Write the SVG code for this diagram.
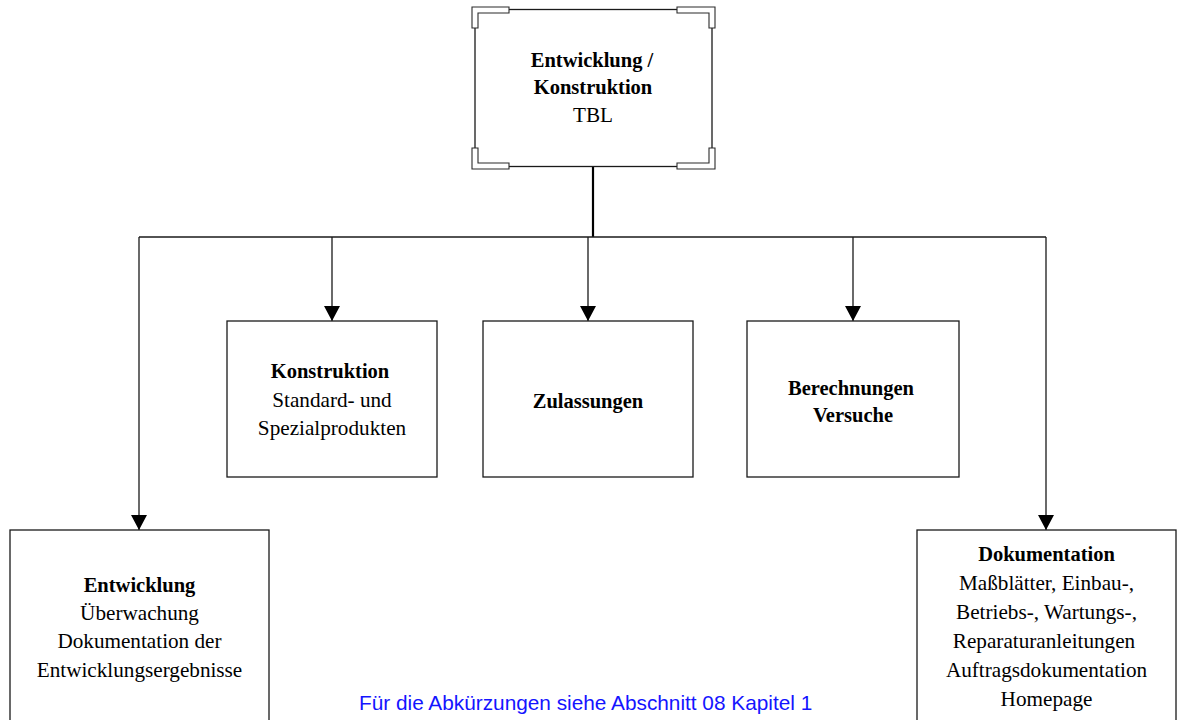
<svg xmlns="http://www.w3.org/2000/svg" width="1177" height="720" viewBox="0 0 1177 720">
  <style>
    .box { fill: #ffffff; stroke: #1a1a1a; stroke-width: 1.3; }
    .bracket { fill: #ffffff; stroke: #2a2a2a; stroke-width: 1.1; }
    .t { font-family: "Liberation Serif", "Times New Roman", serif; font-size: 21.2px; fill: #000000; text-anchor: middle; }
    .b { font-weight: bold; font-size: 20.5px; }
    .line { fill: none; stroke: #1a1a1a; stroke-width: 1.3; }
    .note { font-family: "Liberation Sans", Arial, sans-serif; font-size: 20.8px; fill: #1414ff; }
  </style>
  <defs>
    <marker id="arrow" markerUnits="userSpaceOnUse" markerWidth="16" markerHeight="16" refX="15" refY="8" orient="auto">
      <path d="M0,0 L15,8 L0,16 Z" fill="#000000"/>
    </marker>
  </defs>
  <rect width="1177" height="720" fill="#ffffff"/>

  <!-- connectors -->
  <g id="connectors">
    <line x1="593" y1="167" x2="593" y2="237" stroke="#000000" stroke-width="2.2"/>
    <line class="line" x1="139" y1="237" x2="1046" y2="237"/>
    <line class="line" x1="139" y1="237" x2="139" y2="530" marker-end="url(#arrow)"/>
    <line class="line" x1="332" y1="237" x2="332" y2="321" marker-end="url(#arrow)"/>
    <line class="line" x1="588" y1="237" x2="588" y2="321" marker-end="url(#arrow)"/>
    <line class="line" x1="853" y1="237" x2="853" y2="321" marker-end="url(#arrow)"/>
    <line class="line" x1="1046" y1="237" x2="1046" y2="530" marker-end="url(#arrow)"/>
  </g>

  <!-- head node with bracket corners -->
  <g id="node-tbl">
    <rect class="box" x="475" y="9.5" width="237" height="157"/>
    <path class="bracket" d="M472,7 H509 V13 H478 V28 H472 Z"/>
    <path class="bracket" d="M715,7 H677 V13 H709 V28 H715 Z"/>
    <path class="bracket" d="M472,169 H509 V163 H478 V148 H472 Z"/>
    <path class="bracket" d="M715,169 H677 V163 H709 V148 H715 Z"/>
    <text class="t b" x="592" y="67">Entwicklung /</text>
    <text class="t b" x="593" y="94">Konstruktion</text>
    <text class="t" x="593" y="122">TBL</text>
  </g>

  <g id="node-konstruktion">
    <rect class="box" x="227" y="321" width="210" height="156"/>
    <text class="t b" x="330" y="378">Konstruktion</text>
    <text class="t" x="332" y="407">Standard- und</text>
    <text class="t" x="332" y="435">Spezialprodukten</text>
  </g>

  <g id="node-zulassungen">
    <rect class="box" x="483" y="321" width="210" height="156"/>
    <text class="t b" x="588" y="408">Zulassungen</text>
  </g>

  <g id="node-berechnungen">
    <rect class="box" x="747" y="321" width="212" height="156"/>
    <text class="t b" x="851" y="395">Berechnungen</text>
    <text class="t b" x="853" y="422">Versuche</text>
  </g>

  <g id="node-entwicklung">
    <rect class="box" x="10" y="530" width="259" height="200"/>
    <text class="t b" x="139.5" y="592">Entwicklung</text>
    <text class="t" x="139.5" y="620">Überwachung</text>
    <text class="t" x="139.5" y="648">Dokumentation der</text>
    <text class="t" x="139.5" y="677">Entwicklungsergebnisse</text>
  </g>

  <g id="node-dokumentation">
    <rect class="box" x="917" y="530" width="259" height="200"/>
    <text class="t b" x="1046.5" y="561">Dokumentation</text>
    <text class="t" x="1046.5" y="590">Maßblätter, Einbau-,</text>
    <text class="t" x="1046.5" y="619">Betriebs-, Wartungs-,</text>
    <text class="t" x="1044" y="648">Reparaturanleitungen</text>
    <text class="t" x="1046.5" y="677">Auftragsdokumentation</text>
    <text class="t" x="1046.5" y="706">Homepage</text>
  </g>

  <text class="note" x="359" y="710">Für die Abkürzungen siehe Abschnitt 08 Kapitel 1</text>
</svg>
